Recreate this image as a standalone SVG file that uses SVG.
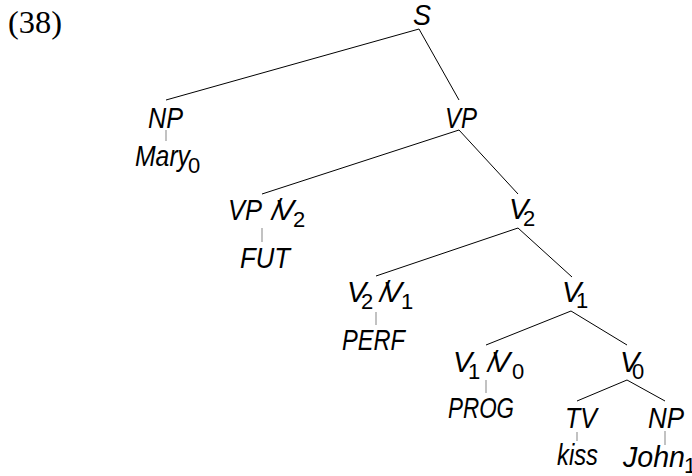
<svg xmlns="http://www.w3.org/2000/svg" width="692" height="476" viewBox="0 0 692 476">
<style>
  .lbl { font-family: "Liberation Sans", Arial, sans-serif; font-style: italic; font-size: 29px; fill: #000; }
  .sub { font-size: 22px; font-style: normal; }
  .edge { stroke: #000; stroke-width: 1; fill: none; }
  .tick { stroke: #999; stroke-width: 1.2; fill: none; }
  .num { font-family: "Liberation Serif", "Times New Roman", serif; font-size: 31px; fill: #000; }
</style>
<rect width="692" height="476" fill="#fff"/>
<text class="num" x="8" y="33" textLength="54" lengthAdjust="spacingAndGlyphs">(38)</text>

<g id="connectors">
  <line class="edge" x1="419" y1="29" x2="166" y2="100"/>
  <line class="edge" x1="419" y1="29" x2="459" y2="100"/>
  <line class="edge" x1="459" y1="130" x2="262" y2="194"/>
  <line class="edge" x1="459" y1="130" x2="518" y2="194"/>
  <line class="edge" x1="518" y1="228" x2="376" y2="276"/>
  <line class="edge" x1="518" y1="228" x2="572" y2="277"/>
  <line class="edge" x1="571" y1="311" x2="486" y2="345"/>
  <line class="edge" x1="571" y1="311" x2="627" y2="345"/>
  <line class="edge" x1="627" y1="380" x2="577" y2="401"/>
  <line class="edge" x1="627" y1="380" x2="665" y2="401"/>
  <line class="tick" x1="166" y1="130" x2="166" y2="141"/>
  <line class="tick" x1="262" y1="228" x2="262" y2="242"/>
  <line class="tick" x1="376" y1="312" x2="376" y2="325"/>
  <line class="tick" x1="486" y1="380" x2="486" y2="393"/>
  <line class="tick" x1="577" y1="432" x2="577" y2="441"/>
  <line class="tick" x1="665" y1="431" x2="665" y2="445"/>
</g>

<g id="S"><text class="lbl" x="413" y="25" textLength="18" lengthAdjust="spacingAndGlyphs">S</text></g>
<g id="NP1"><text class="lbl" x="148" y="128" textLength="35" lengthAdjust="spacingAndGlyphs">NP</text></g>
<g id="Mary"><text class="lbl"><tspan x="135" y="166" textLength="55" lengthAdjust="spacingAndGlyphs">Mary</tspan><tspan class="sub" x="188" y="173">0</tspan></text></g>
<g id="VP"><text class="lbl" x="445" y="128" textLength="32" lengthAdjust="spacingAndGlyphs">VP</text></g>
<g id="VP_V2"><text class="lbl"><tspan x="228" y="220" textLength="34" lengthAdjust="spacingAndGlyphs">VP</tspan><tspan x="272" y="220" letter-spacing="-5">/V</tspan><tspan class="sub" x="293" y="227">2</tspan></text></g>
<g id="FUT"><text class="lbl" x="240" y="268" textLength="50" lengthAdjust="spacingAndGlyphs">FUT</text></g>
<g id="V2"><text class="lbl"><tspan x="509" y="219">V</tspan><tspan class="sub" x="523" y="226">2</tspan></text></g>
<g id="V2_V1"><text class="lbl"><tspan x="347" y="302">V</tspan><tspan class="sub" x="361" y="309">2</tspan><tspan x="380" y="302" letter-spacing="-5">/V</tspan><tspan class="sub" x="401" y="309">1</tspan></text></g>
<g id="PERF"><text class="lbl" x="342" y="350" textLength="63" lengthAdjust="spacingAndGlyphs">PERF</text></g>
<g id="V1"><text class="lbl"><tspan x="562" y="302">V</tspan><tspan class="sub" x="576" y="308">1</tspan></text></g>
<g id="V1_V0"><text class="lbl"><tspan x="453" y="372">V</tspan><tspan class="sub" x="468" y="379">1</tspan><tspan x="488" y="372" letter-spacing="-5">/V</tspan><tspan class="sub" x="512" y="379">0</tspan></text></g>
<g id="PROG"><text class="lbl" x="448" y="418" textLength="66" lengthAdjust="spacingAndGlyphs">PROG</text></g>
<g id="V0"><text class="lbl"><tspan x="620" y="372">V</tspan><tspan class="sub" x="632" y="379">0</tspan></text></g>
<g id="TV"><text class="lbl" x="565" y="428" textLength="32" lengthAdjust="spacingAndGlyphs">TV</text></g>
<g id="kiss"><text class="lbl" x="557" y="465" textLength="41" lengthAdjust="spacingAndGlyphs">kiss</text></g>
<g id="NP2"><text class="lbl" x="648" y="428" textLength="36" lengthAdjust="spacingAndGlyphs">NP</text></g>
<g id="John"><text class="lbl"><tspan x="623" y="467" textLength="62" lengthAdjust="spacingAndGlyphs">John</tspan><tspan class="sub" x="684" y="473">1</tspan></text></g>
</svg>
